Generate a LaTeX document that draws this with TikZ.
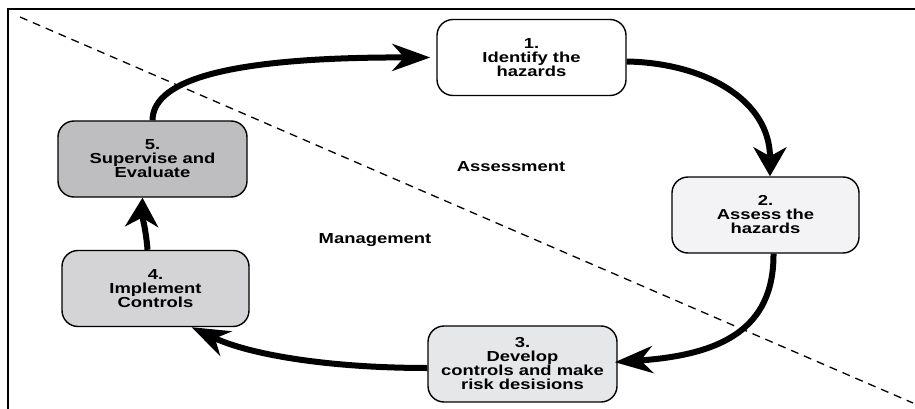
\documentclass[tikz,border=0pt]{standalone}
\usepackage{fontspec}
\setmainfont{Liberation Sans}[FakeStretch=1.27]
\usetikzlibrary{arrows.meta,calc}
\definecolor{fillA}{HTML}{FFFFFF}
\definecolor{fillB}{HTML}{F3F3F5}
\definecolor{fillC}{HTML}{E6E7E8}
\definecolor{fillD}{HTML}{D4D4D6}
\definecolor{fillE}{HTML}{BEBEC0}
\tikzset{
  stepbox/.style={draw=black, line width=1.4pt, rounded corners=16pt,
    minimum width=189pt, minimum height=76pt, inner sep=2pt, align=center,
    font=\fontsize{14.5}{14}\selectfont\bfseries},
  flow/.style={line width=6pt},
  vtip/.style={-{Stealth[length=29pt,width=33pt,inset=9pt]}},
  htip/.style={-{Stealth[length=38pt,width=27pt,inset=12pt]}},
  lbl/.style={font=\fontsize{14.5}{14}\selectfont\bfseries}
}
\begin{document}
\begin{tikzpicture}[x=1pt,y=-1pt]
\useasboundingbox (0,0) rectangle (915,409);
% frame
\draw[line width=2pt] (8,409) -- (8,9) -- (915,9);
% divider
\coordinate (d1) at (20,17);
\coordinate (d2) at (913,403);
\draw[line width=1.3pt, dash pattern=on 8pt off 6pt] (d1) -- (d2);
% boxes
\node[stepbox, fill=fillA] (b1) at (531.5,57.5) {1.\\Identify the\\hazards};
\node[stepbox, fill=fillB, minimum width=187pt] (b2) at (765.5,215) {2.\\Assess the\\hazards};
\node[stepbox, fill=fillC] (b3) at (522.5,364) {3.\\Develop\\controls and make\\risk desisions};
\node[stepbox, fill=fillD, minimum width=187pt] (b4) at (155.5,288.5) {4.\\Implement\\Controls};
\node[stepbox, fill=fillE] (b5) at (152.5,159) {5.\\Supervise and\\Evaluate};
% labels
\node[lbl] (la) at (511,167) {Assessment};
\node[lbl] (lm) at (375,240) {Management};
% arrows
\draw[flow, htip, shorten >=6pt] (b5.north) .. controls (153,85) and (210,57) .. (b1.west);
\draw[flow, vtip] ($(b1.east)+(0,4)$) .. controls (705,63) and (770,100) .. ($(b2.north)+(4.5,0)$);
\draw[flow, htip, shorten >=-3pt] ($(b2.south)+(8,0)$) .. controls (774,330) and (720,355) .. ($(b3.east)+(0,-2)$);
\draw[flow, htip] ($(b3.west)+(0,4)$) .. controls (330,368) and (250,355) .. ($(b4.south)+(36,0)$);
\draw[flow, vtip] ($(b4.north)+(-8,0)$) .. controls (146,230) and (142,215) .. ($(b5.south)+(-10,0)$);
\end{tikzpicture}
\end{document}
